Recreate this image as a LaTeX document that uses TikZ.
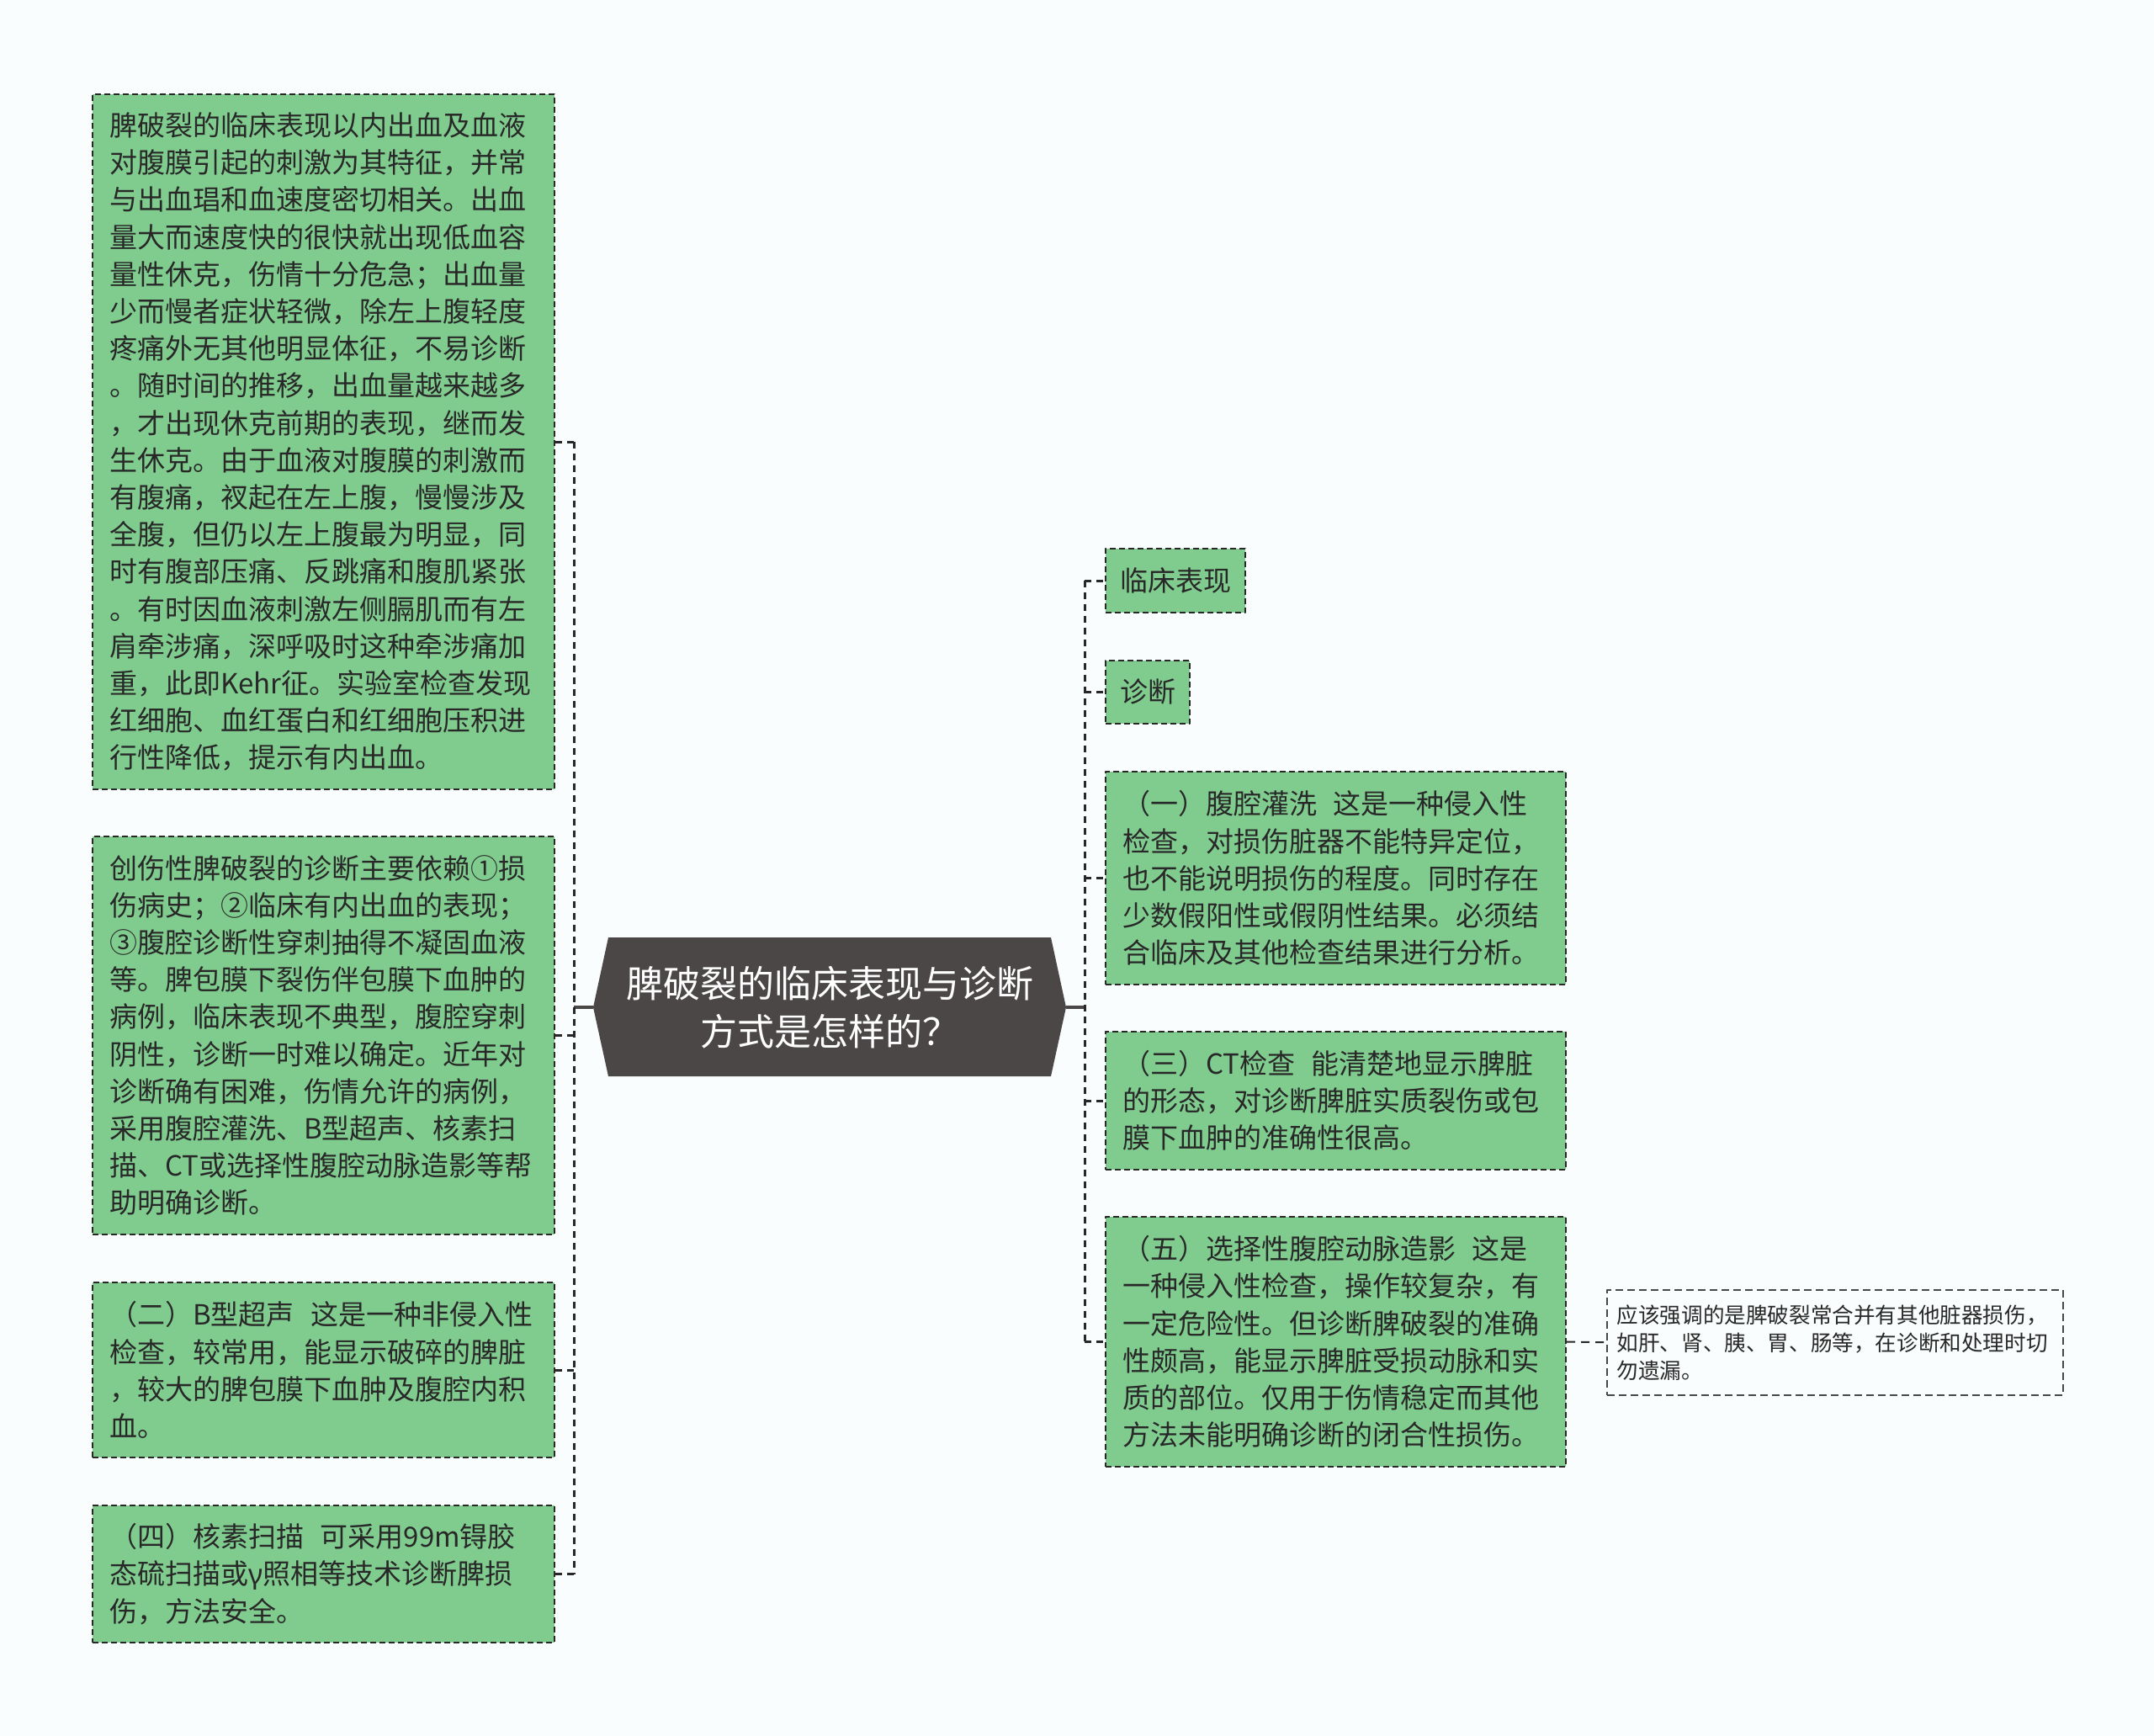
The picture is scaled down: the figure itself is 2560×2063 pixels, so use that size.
\documentclass[tikz,border=0pt]{standalone}
\usepackage{fontspec}
\usepackage{xcolor}
\usepackage{tikz}
\newfontfamily\cjk{Noto Sans CJK SC}
\newfontfamily\latin{Noto Sans}
\definecolor{leafgreen}{RGB}{128,204,143}
\definecolor{rootgray}{RGB}{75,71,71}
\definecolor{ink}{RGB}{40,40,40}
\definecolor{pagebg}{RGB}{250,253,253}

\begin{document}
\begin{tikzpicture}[x=1pt, y=-1pt, line join=round,
    leaf/.style={draw=ink, fill=leafgreen, line width=2pt, dash pattern=on 7pt off 4pt,
      text=ink, font={\cjk\fontsize{33}{44.2}\selectfont}, align=left,
      inner xsep=20pt, inner ysep=0pt, anchor=north west},
    tag/.style={leaf, inner xsep=17pt},
    note/.style={draw=ink!85, line width=1.5pt, dash pattern=on 9pt off 5pt, text=ink,
      font={\cjk\fontsize{25.6}{33}\selectfont}, align=left,
      inner xsep=12pt, inner ysep=0pt, anchor=north west},
    roottext/.style={text=white, font={\cjk\fontsize{44}{57}\selectfont}, align=center, inner sep=0pt},
    link/.style={draw=ink, line width=3pt, dash pattern=on 8pt off 6pt},
    notelink/.style={draw=ink, line width=2pt, dash pattern=on 10pt off 7pt},
    rootlink/.style={draw=rootgray, line width=4pt}]
    \fill[pagebg] (0,0) rectangle (2560,2063);
    \useasboundingbox (0,0) rectangle (2560,2063);

    % Nodes
    \fill[rootgray] (705,1197) -- (723,1114) -- (1249,1114) -- (1267,1197) -- (1249,1279) -- (723,1279) -- cycle;
    \node[roottext, minimum width=562pt, minimum height=165pt] (Root) at (986,1197)
      {脾破裂的临床表现与诊断\\方式是怎样的？};
    \coordinate (LS) at (682,1197);
    \coordinate (RS) at (1289,1197);

    \node[leaf, text width=509pt, minimum height=826pt] (L1) at (109,111)
      {脾破裂的临床表现以内出血及血液\\对腹膜引起的刺激为其特征，并常\\与出血琩和血速度密切相关。出血\\量大而速度快的很快就出现低血容\\量性休克，伤情十分危急；出血量\\少而慢者症状轻微，除左上腹轻度\\疼痛外无其他明显体征，不易诊断\\。随时间的推移，出血量越来越多\\，才出现休克前期的表现，继而发\\生休克。由于血液对腹膜的刺激而\\有腹痛，衩起在左上腹，慢慢涉及\\全腹，但仍以左上腹最为明显，同\\时有腹部压痛、反跳痛和腹肌紧张\\。有时因血液刺激左侧膈肌而有左\\肩牵涉痛，深呼吸时这种牵涉痛加\\重，此即Kehr征。实验室检查发现\\红细胞、血红蛋白和红细胞压积进\\行性降低，提示有内出血。};
    \node[leaf, text width=509pt, minimum height=473pt] (L2) at (109,993)
      {创伤性脾破裂的诊断主要依赖①损\\伤病史；②临床有内出血的表现；\\③腹腔诊断性穿刺抽得不凝固血液\\等。脾包膜下裂伤伴包膜下血肿的\\病例，临床表现不典型，腹腔穿刺\\阴性，诊断一时难以确定。近年对\\诊断确有困难，伤情允许的病例，\\采用腹腔灌洗、B型超声、核素扫\\描、CT或选择性腹腔动脉造影等帮\\助明确诊断。};
    \node[leaf, text width=509pt, minimum height=208pt] (L3) at (109,1523)
      {（二）B型超声\hspace{0.6em}这是一种非侵入性\\检查，较常用，能显示破碎的脾脏\\，较大的脾包膜下血肿及腹腔内积\\血。};
    \node[leaf, text width=509pt, minimum height=163pt] (L4) at (109,1788)
      {（四）核素扫描\hspace{0.6em}可采用99m锝胶\\态硫扫描或{\latin γ}照相等技术诊断脾损\\伤，方法安全。};

    \node[tag, minimum height=76pt] (R1) at (1313,651) {临床表现};
    \node[tag, minimum height=75pt] (R2) at (1313,784) {诊断};
    \node[leaf, text width=507pt, minimum height=253pt] (R3) at (1313,916)
      {（一）腹腔灌洗\hspace{0.6em}这是一种侵入性\\检查，对损伤脏器不能特异定位，\\也不能说明损伤的程度。同时存在\\少数假阳性或假阴性结果。必须结\\合临床及其他检查结果进行分析。};
    \node[leaf, text width=507pt, minimum height=164pt] (R4) at (1313,1225)
      {（三）CT检查\hspace{0.6em}能清楚地显示脾脏\\的形态，对诊断脾脏实质裂伤或包\\膜下血肿的准确性很高。};
    \node[leaf, text width=507pt, minimum height=297pt] (R5) at (1313,1445)
      {（五）选择性腹腔动脉造影\hspace{0.6em}这是\\一种侵入性检查，操作较复杂，有\\一定危险性。但诊断脾破裂的准确\\性颇高，能显示脾脏受损动脉和实\\质的部位。仅用于伤情稳定而其他\\方法未能明确诊断的闭合性损伤。};
    \node[note, text width=518pt, minimum height=125pt] (R6) at (1909,1532)
      {应该强调的是脾破裂常合并有其他脏器损伤，\\如肝、肾、胰、胃、肠等，在诊断和处理时切\\勿遗漏。};

    % Connections
    \draw[rootlink] (Root.west) -- (LS);
    \draw[rootlink] (Root.east) -- (RS);
    \draw[link] (L1.east -| LS) -- (L4.east -| LS);
    \foreach \b in {L1,L2,L3,L4}
      \draw[link] (\b.east -| LS) -- (\b.east);
    \draw[link] (RS |- R1.west) -- (RS |- R5.west);
    \foreach \b in {R1,R2,R3,R4,R5}
      \draw[link] (RS |- \b.west) -- (\b.west);
    \draw[notelink] (R5.east) -- (R6.west);
\end{tikzpicture}
\end{document}
